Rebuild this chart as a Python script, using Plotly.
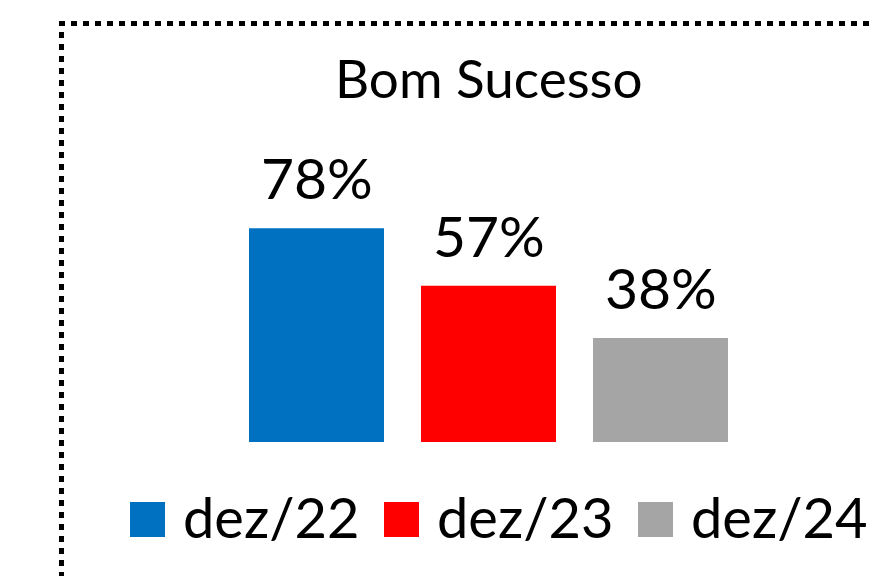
import plotly.graph_objects as go

# ---- data ----
title_text = "Bom Sucesso"
periods = ["dez/22", "dez/23", "dez/24"]
values = [78, 57, 38]
colors = ["#0070C0", "#FF0000", "#A5A5A5"]

W, H = 873, 576
FONT = "Lato"


def X(px):
    return px / W


def Y(py):
    return 1 - py / H


fig = go.Figure()
for p, v, c in zip(periods, values, colors):
    fig.add_trace(go.Bar(x=[p], y=[v], name=p, marker=dict(color=c, line=dict(width=0)),
                         showlegend=False, hoverinfo="skip"))

annotations = []
# data labels above bars
for p, v in zip(periods, values):
    annotations.append(dict(x=p, y=v, xref="x", yref="y", text=f"{v}%", showarrow=False,
                            yanchor="middle", xanchor="center", yshift=51,
                            font=dict(family=FONT, size=57, color="#000000")))
# title
annotations.append(dict(x=X(489), y=Y(78), xref="paper", yref="paper", text=title_text,
                        showarrow=False, xanchor="center", yanchor="middle",
                        font=dict(family=FONT, size=53, color="#000000")))

shapes = []
# custom legend (large squares)
leg_left, leg_pitch, sq = 130, 254, 35
for i, (p, c) in enumerate(zip(periods, colors)):
    x0 = leg_left + i * leg_pitch
    shapes.append(dict(type="rect", xref="paper", yref="paper",
                       x0=X(x0), x1=X(x0 + sq), y0=Y(537), y1=Y(502),
                       fillcolor=c, line=dict(width=0)))
    annotations.append(dict(x=X(x0 + 51), y=Y(516), xref="paper", yref="paper", text=p,
                            showarrow=False, xanchor="left", yanchor="middle",
                            font=dict(family=FONT, size=56, color="#000000")))

# dotted frame (extends beyond right/bottom edges)
shapes.append(dict(type="rect", xref="paper", yref="paper",
                   x0=X(61.5), x1=X(W + 20), y0=Y(H + 20), y1=Y(23.5),
                   line=dict(color="#000000", width=5, dash="6px,6px"),
                   fillcolor="rgba(0,0,0,0)", layer="above"))

fig.update_layout(
    width=W, height=H,
    margin=dict(l=0, r=0, t=0, b=0),
    paper_bgcolor="#FFFFFF", plot_bgcolor="#FFFFFF",
    barmode="overlay", bargap=0.215,
    showlegend=False,
    xaxis=dict(domain=[X(230.5), X(746.5)], range=[-0.5, 2.5], visible=False,
               categoryorder="array", categoryarray=periods),
    yaxis=dict(domain=[Y(442), Y(168)], range=[0, 100], visible=False),
    annotations=annotations,
    shapes=shapes,
)

fig.write_html("out.html", config={"displayModeBar": False},
               post_script="document.body.style.margin='0';document.body.style.overflow='hidden';")
